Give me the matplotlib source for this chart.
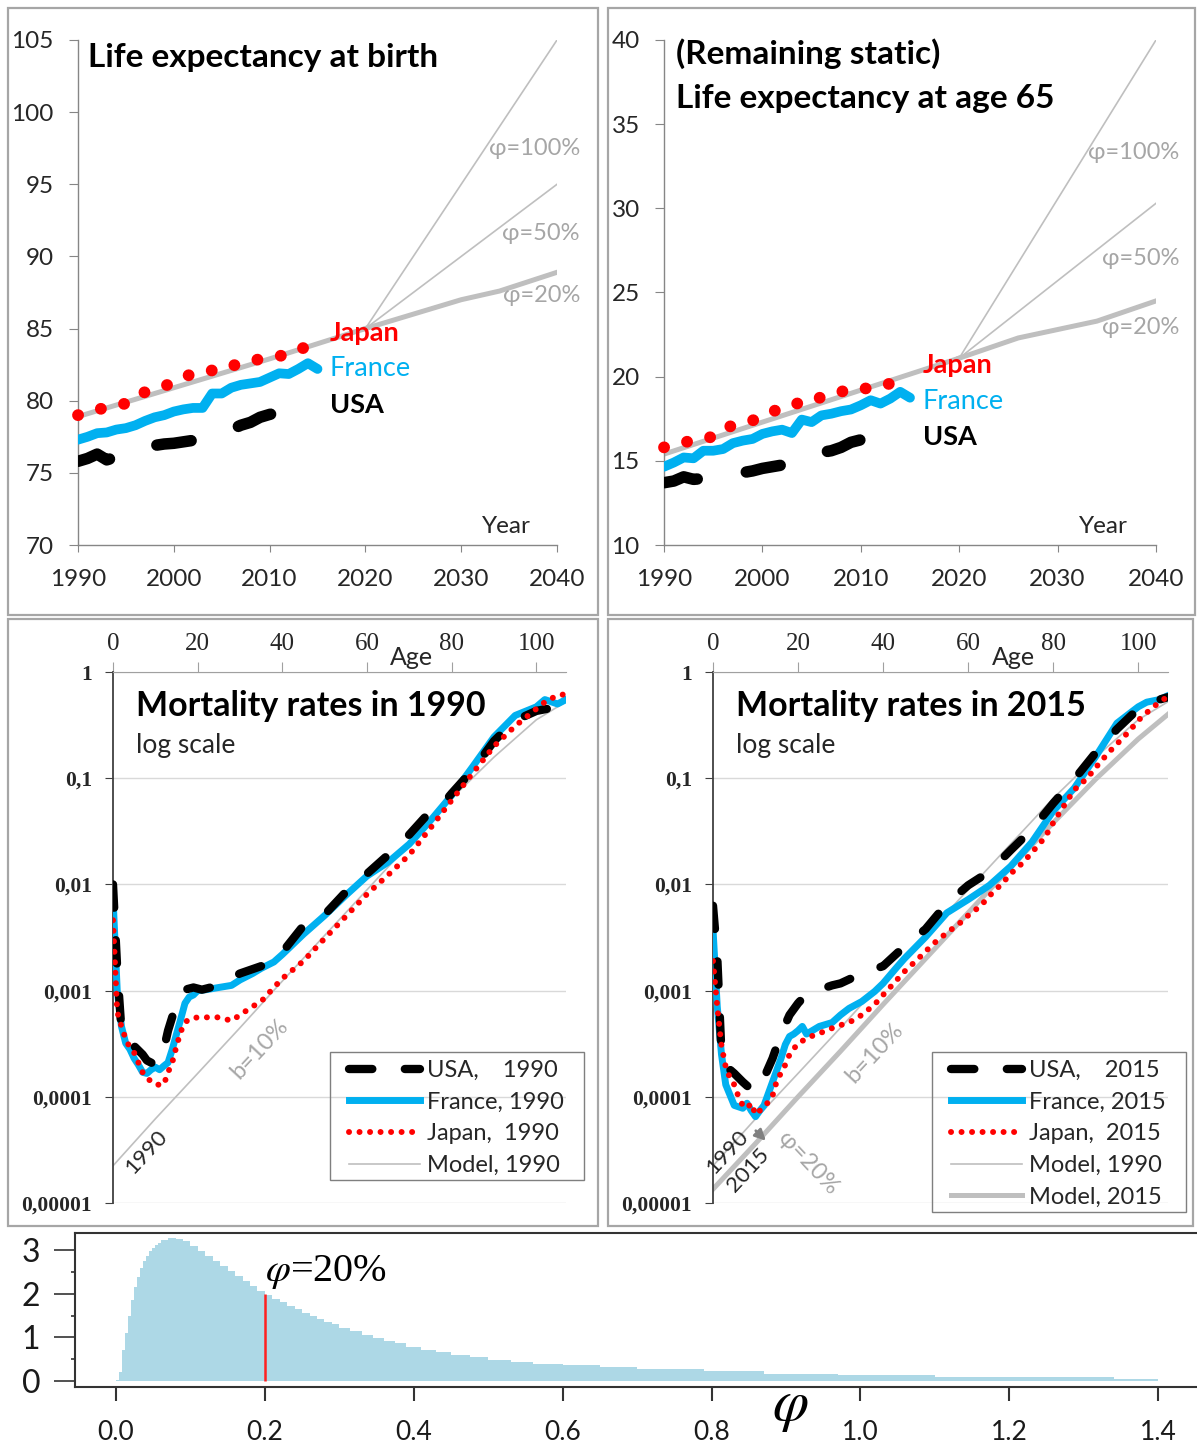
import matplotlib
matplotlib.use("Agg")
import matplotlib.pyplot as plt
from matplotlib.patches import Rectangle
from matplotlib.lines import Line2D

plt.rcParams['font.family'] = ['Lato', 'DejaVu Sans']
plt.rcParams['mathtext.fontset'] = 'stix'

# ---------------- data: life expectancy ----------------
years = list(range(1990, 2016))
usa_years = list(range(1990, 2014))
jp65_years = list(range(1990, 2015))

japan_birth = [79.0, 79.2, 79.4, 79.5, 79.7, 79.8, 80.3, 80.6, 80.8, 81.0, 81.3, 81.6, 81.9,
               82.0, 82.1, 82.1, 82.4, 82.6, 82.7, 82.9, 83.0, 83.1, 83.2, 83.5, 83.8, 83.9]
france_birth = [77.3, 77.5, 77.75, 77.8, 78.0, 78.1, 78.3, 78.6, 78.85, 79.0, 79.25, 79.4, 79.5,
                79.5, 80.5, 80.5, 80.9, 81.1, 81.2, 81.3, 81.6, 81.9, 81.85, 82.2, 82.6, 82.2]
usa_birth = [75.8, 76.0, 76.3, 75.9, 76.1, 76.3, 76.5, 76.8, 76.9, 77.0, 77.05, 77.15,
             77.25, 77.5, 77.7, 77.8, 78.0, 78.3, 78.5, 78.85, 79.05, 79.2, 79.2, 79.3]

japan_65 = [15.8, 16.0, 16.1, 16.2, 16.4, 16.4, 16.9, 17.1, 17.3, 17.4, 17.6, 17.9, 18.2,
            18.3, 18.5, 18.5, 18.8, 18.9, 19.1, 19.3, 19.3, 19.3, 19.4, 19.6, 19.9]
france_65 = [14.65, 14.9, 15.2, 15.15, 15.6, 15.6, 15.7, 16.05, 16.2, 16.3, 16.6, 16.75, 16.85,
             16.65, 17.45, 17.3, 17.7, 17.8, 17.95, 18.05, 18.3, 18.6, 18.4, 18.7, 19.1, 18.75]
usa_65 = [13.7, 13.8, 14.05, 13.9, 13.95, 14.0, 14.1, 14.2, 14.3, 14.4, 14.55, 14.65,
          14.75, 14.9, 15.2, 15.3, 15.5, 15.6, 15.8, 16.1, 16.25, 16.25, 16.3, 16.4]

trend_years = [1990, 2000, 2010, 2020]
proj_years = [2020, 2026, 2030, 2034, 2040]
fan_years = [2020, 2040]

model_birth = [78.9, 80.9, 82.9, 85.0]
phi20_birth = [85.0, 86.2, 87.0, 87.6, 88.9]
phi50_birth = [85.0, 95.0]
phi100_birth = [85.0, 105.0]

model_65 = [15.4, 17.3, 19.2, 21.1]
phi20_65 = [21.1, 22.3, 22.8, 23.3, 24.5]
phi50_65 = [21.1, 30.3]
phi100_65 = [21.1, 40.0]

# ---------------- data: mortality rates ----------------
fr90_age = [0, 1, 2, 3, 4, 5, 6, 7, 8, 9, 10, 11, 12, 13, 14, 15, 16, 17, 18, 19, 20, 22, 25,
            28, 30, 33, 35, 38, 40, 45, 50, 55, 60, 65, 70, 75, 80, 85, 90, 95, 100, 102, 105, 107]
fr90_q = [0.0076, 0.0010, 0.00046, 0.00032, 0.00028, 0.00023, 0.00020, 0.00017, 0.000166,
          0.00018, 0.00019, 0.00018, 0.000195, 0.00021, 0.00028, 0.00039, 0.00054, 0.00076,
          0.00087, 0.00091, 0.0010, 0.00102, 0.00107, 0.00112, 0.00126, 0.00145, 0.00162,
          0.00186, 0.00219, 0.0034, 0.0051, 0.0079, 0.012, 0.0162, 0.024, 0.040, 0.069,
          0.129, 0.245, 0.39, 0.47, 0.55, 0.50, 0.55]

us90_age = [0, 1, 2, 5, 7, 8, 10, 12, 13, 15, 17, 19, 21, 25, 28, 30, 35, 38, 40, 45, 50, 55,
            58, 60, 65, 68, 70, 75, 78, 80, 85, 90, 95, 100, 105, 107]
us90_q = [0.010, 0.0016, 0.00042, 0.00030, 0.00025, 0.00022, 0.00020, 0.00028, 0.00042,
          0.00076, 0.00102, 0.00107, 0.00102, 0.00112, 0.00132, 0.00145, 0.0017, 0.0021,
          0.0023, 0.0041, 0.0052, 0.0085, 0.0115, 0.0126, 0.019, 0.0245, 0.0295, 0.049,
          0.058, 0.072, 0.120, 0.224, 0.35, 0.43, 0.47, 0.50]

jp90_age = [0, 1, 2, 3, 4, 5, 6, 7, 8, 9, 10, 11, 12, 13, 14, 15, 16, 17, 18, 20, 25, 28, 30,
            33, 35, 38, 40, 45, 50, 55, 60, 65, 70, 75, 80, 85, 90, 95, 100, 103, 106, 107]
jp90_q = [0.0046, 0.00063, 0.00046, 0.00035, 0.00029, 0.00026, 0.00021, 0.00017, 0.00015,
          0.00014, 0.00013, 0.00013, 0.00013, 0.00017, 0.00021, 0.00030, 0.00041, 0.00050,
          0.00054, 0.00056, 0.00056, 0.00052, 0.00059, 0.00071, 0.00079, 0.00107, 0.0013,
          0.0019, 0.0031, 0.0050, 0.0081, 0.0123, 0.019, 0.034, 0.062, 0.112, 0.20, 0.31,
          0.45, 0.56, 0.60, 0.66]

fr15_age = [0, 1, 2, 3, 5, 7, 8, 9, 10, 11, 12, 14, 16, 17, 18, 19, 20, 21, 22, 25, 28, 30, 32,
            35, 38, 40, 43, 45, 50, 55, 60, 65, 70, 75, 80, 85, 90, 95, 100, 102, 105, 107]
fr15_q = [0.0038, 0.00071, 0.00025, 0.00013, 0.000083, 0.000078, 0.000087, 0.000074, 0.000065,
          0.000074, 0.000083, 0.000138, 0.00023, 0.00031, 0.00037, 0.00039, 0.00042, 0.00046,
          0.00039, 0.00046, 0.00050, 0.00059, 0.00068, 0.00079, 0.00098, 0.00117, 0.00162,
          0.0020, 0.0032, 0.0054, 0.0072, 0.0098, 0.0148, 0.025, 0.049, 0.081, 0.16, 0.33,
          0.47, 0.52, 0.55, 0.60]

us15_age = [0, 1, 2, 3, 5, 7, 9, 11, 12, 14, 16, 18, 20, 22, 25, 28, 30, 35, 40, 45, 50, 55,
            60, 65, 70, 75, 80, 85, 90, 95, 100, 105, 107]
us15_q = [0.0063, 0.0021, 0.00025, 0.000195, 0.000166, 0.000138, 0.000117, 0.000117, 0.000151,
          0.00023, 0.00039, 0.00059, 0.00076, 0.00093, 0.00102, 0.00112, 0.00117, 0.00145,
          0.0017, 0.0026, 0.0038, 0.0066, 0.0098, 0.0132, 0.021, 0.033, 0.058, 0.098, 0.174,
          0.29, 0.45, 0.55, 0.58]

jp15_age = [0, 1, 2, 3, 4, 5, 6, 7, 8, 9, 10, 11, 13, 14, 15, 17, 18, 20, 23, 26, 29, 32, 35,
            38, 40, 43, 45, 48, 50, 52, 55, 58, 60, 63, 65, 68, 70, 73, 75, 78, 80, 82, 85, 88,
            90, 93, 95, 98, 100, 103, 105, 107]
jp15_q = [0.0019, 0.00071, 0.00030, 0.00019, 0.00015, 0.00013, 0.00010, 0.000083, 0.000078,
          0.000087, 0.000068, 0.000074, 0.000089, 0.000102, 0.000141, 0.00020, 0.00025,
          0.00032, 0.00037, 0.00041, 0.00046, 0.00050, 0.00059, 0.00074, 0.00091, 0.00123,
          0.00151, 0.00195, 0.00234, 0.0028, 0.0035, 0.0043, 0.0051, 0.0063, 0.0078, 0.0102,
          0.0126, 0.0162, 0.020, 0.0275, 0.038, 0.051, 0.078, 0.10, 0.126, 0.174, 0.21, 0.28,
          0.35, 0.45, 0.52, 0.59]

model_age = [0, 10, 20, 30, 40, 50, 60, 70, 80, 90, 100, 107]
model90_q = [2.24e-5, 6.2e-5, 1.66e-4, 4.47e-4, 1.23e-3, 3.31e-3, 8.9e-3, 0.024, 0.0646,
             0.158, 0.355, 0.525]
model15_q = [1.35e-5, 3.63e-5, 1.0e-4, 2.69e-4, 7.4e-4, 2.0e-3, 5.4e-3, 0.0145, 0.038,
             0.098, 0.234, 0.40]

# ---------------- data: distribution of phi ----------------
phi_edges = [0.000, 0.004, 0.008, 0.012, 0.016, 0.020, 0.024, 0.028, 0.032, 0.036, 0.040,
             0.044, 0.048, 0.052, 0.056, 0.060, 0.07, 0.08, 0.09, 0.10, 0.11, 0.12, 0.13,
             0.14, 0.15, 0.16, 0.17, 0.18, 0.19, 0.20, 0.21, 0.22, 0.23, 0.24, 0.25, 0.26,
             0.27, 0.28, 0.29, 0.30, 0.315, 0.330, 0.345, 0.360, 0.375, 0.390, 0.410, 0.430,
             0.450, 0.475, 0.500, 0.530, 0.560, 0.600, 0.650, 0.700, 0.790, 0.870, 0.970,
             1.100, 1.340, 1.400]
phi_density = [0.02, 0.2, 0.7, 1.1, 1.5, 1.85, 2.15, 2.38, 2.58, 2.74, 2.87, 2.97, 3.05,
               3.12, 3.17, 3.23, 3.27, 3.26, 3.20, 3.09, 2.98, 2.86, 2.75, 2.63, 2.52, 2.40,
               2.29, 2.18, 2.07, 1.97, 1.88, 1.80, 1.71, 1.64, 1.56, 1.49, 1.42, 1.36, 1.30,
               1.22, 1.14, 1.06, 0.99, 0.92, 0.86, 0.79, 0.72, 0.66, 0.60, 0.54, 0.49, 0.44,
               0.40, 0.36, 0.31, 0.27, 0.23, 0.17, 0.14, 0.10, 0.05]
phi_mark = 0.2
phi_mark_height = 2.0

# ---------------- figure ----------------
W, H = 1197.0, 1445.0
fig = plt.figure(figsize=(W / 100, H / 100), dpi=100)

GREY = '#bfbfbf'
CYAN = '#00b0f0'
RED = '#ff0000'
TXT = '#262626'


def axes_px(left, top, right, bottom):
    return fig.add_axes([left / W, 1 - bottom / H, (right - left) / W, (bottom - top) / H])


def frame(left, top, right, bottom, color='#a6a6a6', lw=1.6):
    fig.add_artist(Rectangle((left / W, 1 - bottom / H), (right - left) / W, (bottom - top) / H,
                             transform=fig.transFigure, fill=False, edgecolor=color, lw=lw))


def le_panel(ax, ylo, yhi, model, phi20, phi50, phi100, jp_years, jp, fr, us):
    ax.plot(trend_years, model, color=GREY, lw=3.6, zorder=1)
    ax.plot(proj_years, phi20, color=GREY, lw=3.6, zorder=1)
    ax.plot(fan_years, phi50, color=GREY, lw=1.2, zorder=1)
    ax.plot(fan_years, phi100, color=GREY, lw=1.2, zorder=1)
    ax.plot(usa_years, us, color='black', lw=8.3, linestyle=(0, (3.0, 4.3)),
            dash_capstyle='round', zorder=3)
    ax.plot(years, fr, color=CYAN, lw=7, solid_capstyle='round', solid_joinstyle='round',
            zorder=3)
    ax.plot(jp_years, jp, color=RED, lw=8.5, linestyle=(0, (0.01, 2.0)),
            dash_capstyle='round', zorder=4, clip_on=False)
    ax.set_xlim(1990, 2040)
    ax.set_ylim(ylo, yhi)
    ax.set_xticks(range(1990, 2041, 10))
    ax.set_yticks(range(ylo, yhi + 1, 5))
    for s in ['top', 'right']:
        ax.spines[s].set_visible(False)
    for s in ['left', 'bottom']:
        ax.spines[s].set_color('#868686')
        ax.spines[s].set_linewidth(1.0)
    ax.tick_params(axis='y', length=6.5, color='#868686', labelsize=17.5, labelcolor=TXT, pad=11)
    ax.tick_params(axis='x', length=5, color='#868686', labelsize=17.5, labelcolor=TXT, pad=12)


def le_labels(ax, yj, yf, yu, y100, y50, y20, yyear):
    ax.text(2016.3, yj, 'Japan', color=RED, fontsize=19.5, fontweight='bold', va='center')
    ax.text(2016.3, yf, 'France', color=CYAN, fontsize=19.5, va='center')
    ax.text(2016.3, yu, 'USA', color='black', fontsize=19.5, fontweight='bold', va='center')
    for y, t in [(y100, 'φ=100%'), (y50, 'φ=50%'), (y20, 'φ=20%')]:
        ax.text(2042.4, y, t, color='#a6a6a6', fontsize=17, ha='right', va='center',
                clip_on=False)
    ax.text(2034.7, yyear, 'Year', color=TXT, fontsize=17.5, ha='center', va='center')


# top left
ax1 = axes_px(78, 40, 557, 545)
le_panel(ax1, 70, 105, model_birth, phi20_birth, phi50_birth, phi100_birth,
         years, japan_birth, france_birth, usa_birth)
le_labels(ax1, 84.7, 82.2, 79.7, 97.5, 91.6, 87.3, 71.25)
ax1.text(0.021, 0.966, 'Life expectancy at birth', transform=ax1.transAxes, fontsize=24,
         fontweight='bold', va='center', ha='left')

# top right
ax2 = axes_px(664, 40, 1156, 545)
le_panel(ax2, 10, 40, model_65, phi20_65, phi50_65, phi100_65,
         jp65_years, japan_65, france_65, usa_65)
le_labels(ax2, 20.7, 18.55, 16.4, 33.3, 27.0, 22.9, 11.1)
ax2.text(0.024, 0.974, '(Remaining static)', transform=ax2.transAxes, fontsize=24,
         fontweight='bold', va='center', ha='left')
ax2.text(0.024, 0.885, 'Life expectancy at age 65', transform=ax2.transAxes, fontsize=24,
         fontweight='bold', va='center', ha='left')


def mort_panel(ax, year, fr, us, jp, models, legend_box):
    for ages, q, lw in models:
        ax.plot(ages, q, color=GREY, lw=lw, zorder=1)
    ax.plot(fr[0], fr[1], color=CYAN, lw=5, solid_joinstyle='round', zorder=3)
    ax.plot(us[0], us[1], color='black', lw=6, linestyle=(0, (2.8, 3.9)),
            dash_capstyle='round', zorder=4)
    ax.plot(jp[0], jp[1], color=RED, lw=4.3, linestyle=(0, (0.01, 1.75)),
            dash_capstyle='round', zorder=5)
    ax.set_yscale('log')
    ax.set_xlim(0, 107)
    ax.set_ylim(1e-5, 1)
    ax.xaxis.tick_top()
    ax.set_xticks(range(0, 101, 20))
    ax.set_xticklabels([str(a) for a in range(0, 101, 20)], family='Liberation Serif',
                       fontsize=18)
    ax.set_yticks([1, 0.1, 0.01, 0.001, 0.0001, 0.00001])
    ax.set_yticklabels(['1', '0,1', '0,01', '0,001', '0,0001', '0,00001'],
                       family='Liberation Serif', fontweight='bold', fontsize=15.5)
    ax.minorticks_off()
    ax.grid(axis='y', color='#d9d9d9', lw=1.0)
    ax.set_axisbelow(True)
    for s in ['right', 'bottom']:
        ax.spines[s].set_visible(False)
    ax.spines['top'].set_color('#a0a0a0')
    ax.spines['left'].set_color('#404040')
    ax.spines['left'].set_linewidth(1.3)
    ax.tick_params(axis='x', length=7, color='#a0a0a0', labelcolor=TXT, pad=5)
    ax.tick_params(axis='y', length=6, color='#404040', labelcolor=TXT, pad=9)
    ax.text(0.05, 0.936, 'Mortality rates in %d' % year, transform=ax.transAxes, fontsize=24.5,
            fontweight='bold', va='center')
    ax.text(0.05, 0.862, 'log scale', transform=ax.transAxes, fontsize=19, va='center',
            color=TXT)
    ax.text(0.66, 1.027, 'Age', transform=ax.transAxes, fontsize=18, va='center',
            ha='center', color=TXT)

    handles = [Line2D([], [], color='black', lw=6, linestyle=(0, (2.8, 3.9)),
                      dash_capstyle='round'),
               Line2D([], [], color=CYAN, lw=5),
               Line2D([], [], color=RED, lw=4.3, linestyle=(0, (0.01, 1.75)),
                      dash_capstyle='round')]
    labels = ['USA,    %d' % year, 'France, %d' % year, 'Japan,  %d' % year]
    for ages, q, lw in models:
        handles.append(Line2D([], [], color=GREY, lw=lw))
    labels += ['Model, 1990', 'Model, 2015'][:len(models)]
    left, top, right, bottom = legend_box
    frame(left, top, right, bottom, color='#7f7f7f', lw=1.0)
    leg = ax.legend(handles, labels, loc='upper left',
                    bbox_to_anchor=((left + 19) / W, 1 - (top + 8) / H),
                    bbox_transform=fig.transFigure, borderaxespad=0, fontsize=17,
                    handlelength=3.0, handletextpad=0.3, labelspacing=0.45, borderpad=0,
                    frameon=False)
    for t in leg.get_texts():
        t.set_color(TXT)


ax3 = axes_px(113, 672, 566, 1203)
mort_panel(ax3, 1990, (fr90_age, fr90_q), (us90_age, us90_q), (jp90_age, jp90_q),
           [(model_age, model90_q, 1.2)], (330, 1052, 584, 1180))
ax3.text(8.0, 3.0e-5, '1990', rotation=47, fontsize=16, ha='center', va='center', color=TXT)
ax3.text(34.7, 2.8e-4, 'b=10%', rotation=47, fontsize=17, ha='center', va='center',
         color='#a6a6a6')

ax4 = axes_px(713, 672, 1168, 1203)
mort_panel(ax4, 2015, (fr15_age, fr15_q), (us15_age, us15_q), (jp15_age, jp15_q),
           [(model_age, model90_q, 1.2), (model_age, model15_q, 3.6)], (932, 1052, 1186, 1212))
ax4.text(3.3, 3.0e-5, '1990', rotation=47, fontsize=16, ha='center', va='center', color=TXT)
ax4.text(8.2, 2.05e-5, '2015', rotation=47, fontsize=16, ha='center', va='center', color=TXT)
ax4.text(22.4, 2.35e-5, 'φ=20%', rotation=-47, fontsize=17, ha='center', va='center',
         color='#a6a6a6')
ax4.text(37.9, 2.6e-4, 'b=10%', rotation=47, fontsize=17, ha='center', va='center',
         color='#a6a6a6')
ax4.annotate('', xy=(12.9, 3.7e-5), xytext=(9.6, 5.0e-5),
             arrowprops=dict(arrowstyle='-|>', color='#808080', lw=2, mutation_scale=16))

# bottom: distribution of phi
ax5 = axes_px(75, 1233, 1197, 1387)
ax5.stairs(phi_density, phi_edges, fill=True, color='#add8e6', lw=0)
ax5.vlines(phi_mark, 0, phi_mark_height, color='#ff2020', lw=1.8)
ax5.set_xlim(-0.055, 1.452)
ax5.set_ylim(-0.137, 3.39)
ax5.set_yticks([0, 1, 2, 3])
ax5.set_yticks([0.5, 1.5, 2.5], minor=True)
ax5.set_xticks([0.0, 0.2, 0.4, 0.6, 0.8, 1.0, 1.2, 1.4])
ax5.set_xticklabels(['0.0', '0.2', '0.4', '0.6', '0.8', '1.0', '1.2', '1.4'])
ax5.spines['right'].set_visible(False)
for s in ['left', 'top', 'bottom']:
    ax5.spines[s].set_color('#333333')
    ax5.spines[s].set_linewidth(1.5)
ax5.tick_params(axis='y', which='major', length=15, width=1.2, color='#333333',
                labelsize=23, labelcolor='#1a1a1a', pad=10)
ax5.tick_params(axis='y', which='minor', length=3, width=1.2, color='#333333')
ax5.tick_params(axis='x', length=10, width=1.5, color='#333333', labelsize=19,
                labelcolor='#1a1a1a', pad=14)
ax5.text(0.2, 2.5, r'$\varphi$=20%', fontsize=29, family='Liberation Serif', ha='left',
         va='center')
fig.text(790 / W, 1 - 1408 / H, r'$\varphi$', fontsize=42, ha='center', va='center')

# panel frames
frame(8, 8, 598, 615)
frame(608, 8, 1195, 615)
frame(8, 619, 598, 1226)
frame(608, 619, 1193, 1226)

fig.savefig('out.png', dpi=100)
